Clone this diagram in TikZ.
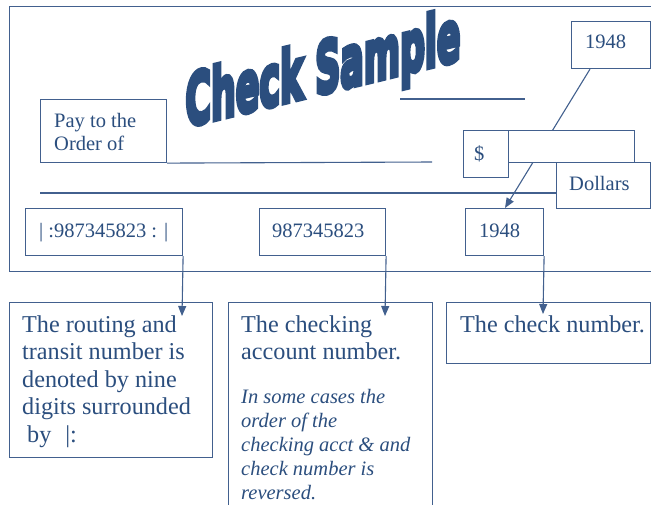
\documentclass[tikz,border=0pt]{standalone}
\usepackage{fontspec}
\setmainfont{Liberation Serif}
\font\wordartfont="DejaVu Sans/B:embolden=8" at 71pt
\usetikzlibrary{arrows.meta}
\definecolor{ink}{RGB}{43,78,126}
\definecolor{linec}{RGB}{66,96,142}
\begin{document}
\begin{tikzpicture}[x=1pt,y=-1pt,
  box/.style={draw=linec, line width=1.1pt, fill=white, inner sep=0pt, anchor=north west},
  txt/.style={text=ink, anchor=base west, inner sep=0pt},
  ln/.style={draw=linec, line width=1.1pt},
  arr/.style={ln, -{Triangle[length=10pt,width=8pt]}},
  topf/.style={font=\fontsize{20.5}{23.3}\selectfont},
  descf/.style={font=\fontsize{24.2}{27.5}\selectfont}]
\useasboundingbox (0,0) rectangle (651,504);
\clip (0,0) rectangle (651,504);
% check outline
\node[box, minimum width=660pt, minimum height=265pt, fill=none] (check) at (9,6) {};
% title
\node[text=ink, yslant=0.244, xscale=0.49, anchor=base, inner sep=0pt, font=\wordartfont] (title) at (323,93) {Check Sample};
% signature/date lines
\coordinate (d1) at (400,99); \coordinate (d2) at (525,99);
\draw[ln] (d1) -- (d2);
\coordinate (m1) at (40,193); \coordinate (m2) at (556,193);
\draw[ln] (m1) -- (m2);
% pay box
\node[box, minimum width=126pt, minimum height=63pt] (pay) at (40,99) {};
\node[txt, topf] (paytxt) at (54,127) {\parbox[t]{120pt}{Pay to the\\Order of}};
\coordinate (p2) at (432,162);
\draw[ln] (pay.south east) -- (p2);
% top 1948 and check number box
\node[box, minimum width=79pt, minimum height=47pt] (y1) at (571,21) {};
\node[txt, topf] (y1txt) at (585,48) {1948};
\node[box, minimum width=78pt, minimum height=47pt] (chk) at (465,208) {};
\node[txt, topf] (chktxt) at (479,237) {1948};
\draw[arr] ([xshift=19pt]y1.south west) -- ([xshift=40pt]chk.north west);
% amount boxes
\node[box, minimum width=45pt, minimum height=47pt] (dol) at (463,130) {};
\node[txt, topf] (doltxt) at (474,160) {\$};
\node[box, minimum width=126pt, minimum height=32pt] (amt) at (508,130) {};
\node[box, minimum width=94pt, minimum height=46pt] (dollars) at (556,162) {};
\node[txt, topf] (dollarstxt) at (569,190) {Dollars};
% MICR boxes
\node[box, minimum width=157pt, minimum height=47pt] (rout) at (25,208) {};
\node[txt, topf] (routtxt) at (39,237) {| :987345823 : |};
\node[box, minimum width=126pt, minimum height=47pt] (acct) at (259,208) {};
\node[txt, topf] (accttxt) at (272,237) {987345823};
% description boxes
\node[box, minimum width=203pt, minimum height=155pt] (routd) at (9,302) {};
\node[txt, descf] (routdtxt) at (22,332) {\parbox[t]{195pt}{The routing and\\transit number is\\denoted by nine\\digits surrounded\\\hspace*{5pt}by\hspace{14pt}|:}};
\node[box, minimum width=204pt, minimum height=220pt] (acctd) at (228,302) {};
\node[txt, descf] (acctdtxt) at (241,332) {\parbox[t]{195pt}{The checking\\account number.}};
\node[txt, font=\fontsize{20.5}{24.2}\selectfont\itshape] (acctdit) at (241,403) {\parbox[t]{195pt}{In some cases the\\order of the\\checking acct \& and\\check number is\\reversed.}};
\node[box, minimum width=204pt, minimum height=61pt] (chkd) at (446,302) {};
\node[txt, descf] (chkdtxt) at (460,332) {The check number.};
% arrows down
\coordinate (a1) at (182,316);
\coordinate (a2) at (385,316);
\coordinate (a3) at (543,314);
\draw[arr] (rout.south east) -- (a1);
\draw[arr] (acct.south east) -- (a2);
\draw[arr] (chk.south east) -- (a3);
\end{tikzpicture}
\end{document}
